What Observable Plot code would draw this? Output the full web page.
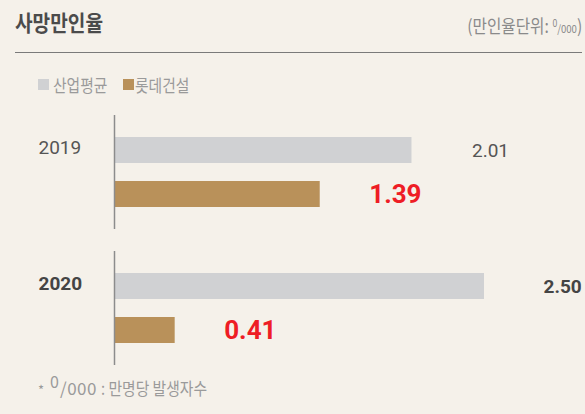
<!DOCTYPE html>
<html>
<head>
<meta charset="utf-8">
<script src="https://cdn.jsdelivr.net/npm/d3@7"></script>
<script src="https://cdn.jsdelivr.net/npm/@observablehq/plot@0.6"></script>
<style>
  html, body { margin: 0; padding: 0; background: #f5f1ea; }
  #wrap { position: relative; width: 585px; height: 414px; background: #f5f1ea; overflow: hidden;
          font-family: "Noto Sans CJK KR", "Noto Sans", sans-serif; }
  .abs { position: absolute; white-space: nowrap; }
  .cond { display: inline-block; transform: scaleX(0.87); transform-origin: left center; }
  #title { left: 15px; top: 8px; font-size: 22px; line-height: 26px; font-weight: 700; color: #4b4b4b; }
  #unit { right: 3px; top: 12px; font-size: 18px; line-height: 22px; color: #8a8a8a; }
  #unit .cond { transform-origin: right center; }
  #rule { left: 15px; top: 52px; width: 567px; height: 0; border-top: 1.5px solid #7a7a7a; }
  .sw { position: absolute; width: 11px; height: 11px; top: 79px; }
  .lg { top: 73px; font-size: 17px; line-height: 24px; color: #9a9a9a; }
  #chart { position: absolute; left: 0; top: 100px; }
  #note { left: 38px; top: 368px; font-size: 17px; line-height: 26px; color: #9a9a9a; }
</style>
</head>
<body>
<div id="wrap">
  <div id="title" class="abs"><span class="cond">사망만인율</span></div>
  <div id="unit" class="abs"><span class="cond">(만인율단위: <span style="font-size:10px;vertical-align:6px">0</span><span style="font-size:11px">/000</span>)</span></div>
  <div id="rule" class="abs"></div>
  <div id="legend"></div>
  <div id="chart"></div>
  <div id="note" class="abs"><span style="font-size:13px;">*</span><span style="font-size:16px;vertical-align:7px;margin-left:6px">0</span><span style="letter-spacing:0.5px;margin-left:1px">/000</span><span class="cond" style="margin-left:4px">: 만명당 발생자수</span></div>
</div>
<script>
const years = ["2019", "2020"];
const series = ["산업평균", "롯데건설"];
const industryAvg = [2.01, 2.50];
const lotte = [1.39, 0.41];
const seriesColors = ["#d0d1d3", "#b9915a"];

const data = years.flatMap((yr, i) => [
  {year: yr, series: series[0], value: industryAvg[i]},
  {year: yr, series: series[1], value: lotte[i]}
]);

// legend (HTML)
const legend = document.getElementById("legend");
const swX = [38, 123];
const txX = [53, 135];
series.forEach((s, i) => {
  const sw = document.createElement("div");
  sw.className = "sw";
  sw.style.left = swX[i] + "px";
  sw.style.background = seriesColors[i];
  legend.appendChild(sw);
  const t = document.createElement("div");
  t.className = "abs lg";
  t.style.left = txX[i] + "px";
  t.innerHTML = `<span class="cond">${s}</span>`;
  legend.appendChild(t);
});

const num = "Roboto, 'DejaVu Sans', sans-serif";
const fmt = d => d.value.toFixed(2);

const chart = Plot.plot({
  width: 585,
  height: 280,
  marginLeft: 114,
  marginRight: 27,
  marginTop: 15,
  marginBottom: 15,
  style: {background: "transparent", overflow: "visible"},
  x: {domain: [0, 3], axis: null},
  y: {domain: series, paddingInner: 0.4, paddingOuter: 0.467, axis: null},
  fy: {domain: years, paddingInner: 0.1618, paddingOuter: 0, axis: null},
  color: {domain: series, range: seriesColors},
  marks: [
    Plot.barX(data, {x: "value", y: "series", fy: "year", fill: "series"}),
    Plot.ruleX([0], {stroke: "#8c8c8c", strokeWidth: 1.5}),
    // year labels
    Plot.text(data, {filter: d => d.series === series[0] && d.year === years[0],
      y: "series", fy: "year", text: "year", frameAnchor: "left", textAnchor: "start",
      dx: -76, dy: -3, fontSize: 19, fontFamily: num, fill: "#555"}),
    Plot.text(data, {filter: d => d.series === series[0] && d.year === years[1],
      y: "series", fy: "year", text: "year", frameAnchor: "left", textAnchor: "start",
      dx: -76, dy: -3, fontSize: 19, fontWeight: "bold", fontFamily: num, fill: "#444"}),
    // value labels
    Plot.text(data, {filter: d => d.series === series[0] && d.year === years[0],
      x: "value", y: "series", fy: "year", text: fmt, textAnchor: "start",
      dx: 60, fontSize: 19, fontFamily: num, fill: "#555"}),
    Plot.text(data, {filter: d => d.series === series[0] && d.year === years[1],
      x: "value", y: "series", fy: "year", text: fmt, textAnchor: "start",
      dx: 59, fontSize: 19, fontWeight: "bold", fontFamily: num, fill: "#444"}),
    Plot.text(data, {filter: d => d.series === series[1],
      x: "value", y: "series", fy: "year", text: fmt, textAnchor: "start",
      dx: 49, fontSize: 26, fontWeight: "bold", fontFamily: num, fill: "#ee1d25"})
  ]
});
document.getElementById("chart").appendChild(chart);
</script>
</body>
</html>
